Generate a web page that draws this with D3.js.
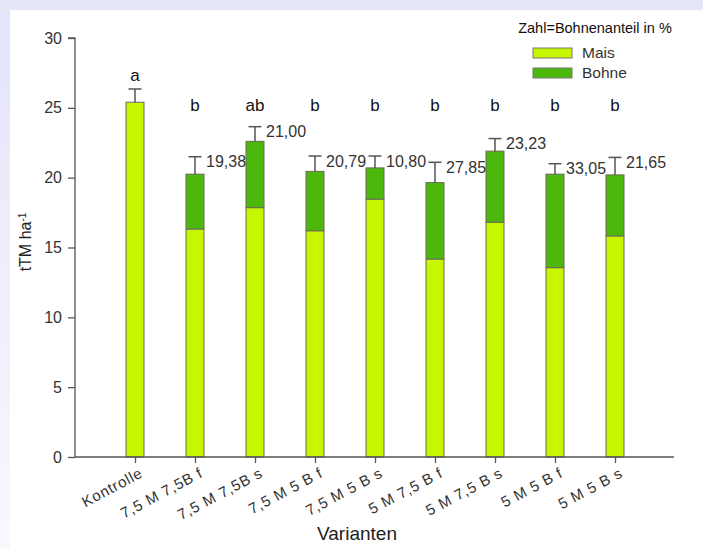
<!DOCTYPE html>
<html>
<head>
<meta charset="utf-8">
<script src="https://cdn.jsdelivr.net/npm/d3@7"></script>
<style>
  html, body { margin: 0; padding: 0; background: #fff; }
  svg text { font-family: "Liberation Sans", Arial, Helvetica, sans-serif; }
</style>
</head>
<body>
<svg id="chart" width="703" height="548"></svg>
<script>
// Varianten (x categories)
const categories = ["Kontrolle", "7,5 M 7,5B f", "7,5 M 7,5B s", "7,5 M 5 B f", "7,5 M 5 B s",
                    "5 M 7,5 B f", "5 M 7,5 B s", "5 M 5 B f", "5 M 5 B s"];
// total dry matter yield, tTM ha-1
const totals = [25.4, 20.25, 22.6, 20.45, 20.7, 19.65, 21.9, 20.25, 20.2];
// share of beans in % (labelled values)
const bohneShare = [0, 19.38, 21.00, 20.79, 10.80, 27.85, 23.23, 33.05, 21.65];
const shareLabels = ["", "19,38", "21,00", "20,79", "10,80", "27,85", "23,23", "33,05", "21,65"];
// standard errors (upper whisker)
const errors = [0.95, 1.25, 1.05, 1.1, 0.85, 1.45, 0.9, 0.75, 1.25];
// significance letters
const letters = ["a", "b", "ab", "b", "b", "b", "b", "b", "b"];
const yTicks = [0, 5, 10, 15, 20, 25, 30];
const seriesNames = ["Mais", "Bohne"];
const colors = { Mais: "#c6f700", Bohne: "#4cb80c" };

const rows = categories.map((c, i) => {
  const bohne = totals[i] * bohneShare[i] / 100;
  return { cat: c, i, Mais: totals[i] - bohne, Bohne: bohne, total: totals[i], err: errors[i] };
});

const svg = d3.select("#chart");
const W = 703, H = 548;

// frame background
const defs = svg.append("defs");
const g1 = defs.append("linearGradient").attr("id", "leftBand").attr("x1", 0).attr("y1", 0).attr("x2", 0).attr("y2", 1);
g1.append("stop").attr("offset", "0%").attr("stop-color", "#e4e4fa");
g1.append("stop").attr("offset", "100%").attr("stop-color", "#f8f8fe");
svg.append("rect").attr("width", W).attr("height", H).attr("fill", "#fff");
svg.append("rect").attr("x", 0).attr("y", 0).attr("width", 10).attr("height", H).attr("fill", "url(#leftBand)");
svg.append("rect").attr("x", 0).attr("y", 0).attr("width", W).attr("height", 10).attr("fill", "#e6e6fa");

const x = d3.scaleLinear().domain([0, categories.length + 1]).range([75, 675]);
const y = d3.scaleLinear().domain([0, 30]).range([457, 38]);
const barW = 18;
const axisColor = "#555";
const textColor = "#333";

// bars
const stack = d3.stack().keys(seriesNames)(rows);
const layers = svg.append("g").selectAll("g").data(stack).join("g")
  .attr("fill", d => colors[d.key]);
layers.selectAll("rect").data(d => d.filter(s => s[1] - s[0] > 0)).join("rect")
  .attr("x", d => x(d.data.i + 1) - barW / 2)
  .attr("y", d => y(d[1]))
  .attr("width", barW)
  .attr("height", d => y(d[0]) - y(d[1]))
  .attr("stroke", "#6a6a5a")
  .attr("stroke-width", 1);

// error bars
const eb = svg.append("g").attr("stroke", "#555").attr("stroke-width", 1.5);
rows.forEach(d => {
  const cx = x(d.i + 1);
  eb.append("line").attr("x1", cx).attr("x2", cx).attr("y1", y(d.total)).attr("y2", y(d.total + d.err));
  eb.append("line").attr("x1", cx - 6.5).attr("x2", cx + 6.5).attr("y1", y(d.total + d.err)).attr("y2", y(d.total + d.err));
});

// bean share labels
svg.append("g").selectAll("text").data(rows.filter(d => shareLabels[d.i] !== "")).join("text")
  .attr("x", d => x(d.i + 1) + 11)
  .attr("y", d => y(d.total + d.err) + 5)
  .attr("dy", "0.35em")
  .attr("font-size", 16)
  .attr("fill", textColor)
  .text(d => shareLabels[d.i]);

// significance letters
svg.append("g").selectAll("text").data(rows).join("text")
  .attr("x", d => x(d.i + 1))
  .attr("y", d => Math.min(y(24.75), y(d.total + d.err) - 7.5))
  .attr("text-anchor", "middle")
  .attr("font-size", 17)
  .attr("fill", "#111")
  .text(d => letters[d.i]);

// y axis
const yAxis = svg.append("g").attr("transform", "translate(75,0)")
  .call(d3.axisLeft(y).tickValues(yTicks).tickSize(7).tickPadding(6).tickFormat(d3.format("d")));
yAxis.select(".domain").attr("stroke", axisColor).attr("stroke-width", 1.3).attr("d", `M-7,${y(30)}H0V${y(0)}`);
yAxis.selectAll(".tick line").attr("stroke", axisColor).attr("stroke-width", 1.3);
yAxis.selectAll(".tick text").attr("font-size", 16).attr("fill", textColor)
  .attr("font-family", "Liberation Sans, Arial, sans-serif");

// x axis
const xAxis = svg.append("g").attr("transform", `translate(0,${y(0)})`)
  .call(d3.axisBottom(x).tickValues(d3.range(1, categories.length + 1)).tickSize(6).tickFormat(""));
xAxis.select(".domain").attr("stroke", axisColor).attr("stroke-width", 1.3).attr("d", `M75,0H674`);
xAxis.selectAll(".tick line").attr("stroke", axisColor).attr("stroke-width", 1.3);

svg.append("g").selectAll("text").data(categories).join("text")
  .attr("transform", (d, i) => `translate(${x(i + 1) + 4},${y(0) + 10}) rotate(-28)`)
  .attr("text-anchor", "end")
  .attr("dy", "0.7em")
  .attr("font-size", 15)
  .attr("letter-spacing", 0.8)
  .attr("fill", textColor)
  .text(d => d);

// axis titles
svg.append("text").attr("x", 357).attr("y", 540).attr("text-anchor", "middle")
  .attr("font-size", 19).attr("fill", "#222").text("Varianten");

const yt = svg.append("text").attr("transform", "translate(31,242) rotate(-90)")
  .attr("text-anchor", "middle").attr("font-size", 16).attr("fill", "#222");
yt.append("tspan").text("tTM ha");
yt.append("tspan").attr("dy", "-0.5em").attr("font-size", 10).text("-1");

// legend
const lg = svg.append("g");
lg.append("text").attr("x", 595).attr("y", 33).attr("text-anchor", "middle")
  .attr("font-size", 14.5).attr("fill", "#111").text("Zahl=Bohnenanteil in %");
seriesNames.forEach((s, i) => {
  lg.append("rect").attr("x", 533).attr("y", 48 + i * 20).attr("width", 39).attr("height", 10)
    .attr("fill", colors[s]).attr("stroke", "#777").attr("stroke-width", 1);
  lg.append("text").attr("x", 582).attr("y", 53 + i * 20).attr("dy", "0.35em")
    .attr("font-size", 15.5).attr("fill", textColor).text(s);
});
</script>
</body>
</html>
